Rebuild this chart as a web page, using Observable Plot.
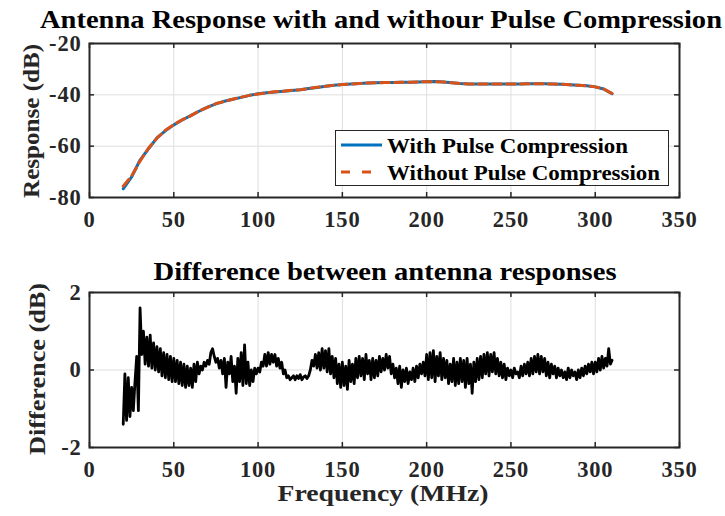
<!DOCTYPE html>
<html><head><meta charset="utf-8">
<script src="https://cdn.jsdelivr.net/npm/d3@7"></script>
<script src="https://cdn.jsdelivr.net/npm/@observablehq/plot@0.6"></script>
<style>
body{margin:0;background:#fff;}
#wrap{position:relative;width:725px;height:516px;overflow:hidden;background:#fff;}
#wrap .panel{position:absolute;left:0;}
#overlay{position:absolute;left:0;top:0;pointer-events:none;}
#overlay text{font-family:"Liberation Serif",serif;font-weight:bold;fill:#000;}
</style></head><body><div id="wrap"></div>
<script>
// ---- data ----
const xTicks = [0, 50, 100, 150, 200, 250, 300, 350];
const respTicks = [-80, -60, -40, -20];
const diffTicks = [-2, 0, 2];

// response sampled every 5 MHz from 20 to 310
const respFreq = [20,25,30,35,40,45,50,55,60,65,70,75,80,85,90,95,100,105,110,115,120,125,130,135,140,145,150,155,160,165,170,175,180,185,190,195,200,205,210,215,220,225,230,235,240,245,250,255,260,265,270,275,280,285,290,295,300,305,310];
const respWith = [-76.6,-72.0,-65.4,-61.0,-56.8,-54.0,-51.7,-49.8,-48.1,-46.4,-44.8,-43.5,-42.5,-41.7,-41.0,-40.2,-39.6,-39.2,-38.9,-38.6,-38.3,-38.0,-37.5,-37.1,-36.7,-36.3,-36.0,-35.8,-35.6,-35.4,-35.3,-35.2,-35.2,-35.1,-35.1,-35.0,-34.9,-34.8,-35.0,-35.3,-35.6,-35.8,-35.8,-35.8,-35.8,-35.8,-35.8,-35.8,-35.7,-35.7,-35.7,-35.8,-35.9,-36.1,-36.3,-36.5,-36.9,-37.7,-39.6];
const respWithout = [-75.6,-71.6,-65.8,-60.8,-56.9,-53.8,-51.6,-49.7,-48.2,-46.3,-44.9,-43.4,-42.6,-41.7,-40.9,-40.2,-39.7,-39.2,-38.8,-38.6,-38.2,-38.0,-37.6,-37.0,-36.7,-36.3,-36.0,-35.8,-35.6,-35.4,-35.3,-35.2,-35.2,-35.1,-35.1,-35.0,-34.9,-34.9,-35.0,-35.3,-35.6,-35.8,-35.8,-35.8,-35.8,-35.8,-35.8,-35.8,-35.7,-35.7,-35.7,-35.8,-35.9,-36.1,-36.3,-36.5,-36.9,-37.7,-39.5];

// difference sampled every 1 MHz from 20 to 310
const diffStart = 20;
const diffValues = [
 -1.40,-0.10,-1.30,-0.20,-1.20,-0.45,-1.05,-0.30, 0.35,-1.05,
  1.60, 0.40, 1.00, 0.15, 0.85, 0.10, 0.90, 0.05, 0.70, 0.00,
  0.60,-0.05, 0.55,-0.15, 0.45,-0.20, 0.40,-0.25, 0.35,-0.30,
  0.30,-0.30, 0.25,-0.35, 0.20,-0.40, 0.15,-0.45, 0.10,-0.40,
  0.05,-0.45, 0.15,-0.30, 0.20,-0.10, 0.10, 0.00, 0.20, 0.10,
  0.25, 0.15, 0.45, 0.55, 0.35, 0.20, 0.30, 0.05, 0.25,-0.10,
  0.30,-0.45, 0.20,-0.10, 0.35,-0.30, 0.10,-0.60, 0.30,-0.30,
  0.45,-0.40, 0.65,-0.35, 0.20,-0.40, 0.00,-0.30, 0.05,-0.10,
  0.05,-0.05, 0.20, 0.10, 0.40, 0.10, 0.45, 0.15, 0.40, 0.20,
  0.40, 0.10, 0.30, 0.05, 0.20,-0.10, 0.00,-0.20,-0.15,-0.25,
 -0.20,-0.15,-0.25,-0.15,-0.22,-0.12,-0.25,-0.18,-0.15,-0.22,
 -0.15, 0.00, 0.25, 0.10, 0.40, 0.05, 0.45, 0.00, 0.55, 0.05,
  0.50,-0.05, 0.55,-0.10, 0.35,-0.20, 0.30,-0.35, 0.15,-0.45,
  0.20,-0.40, 0.10,-0.50, 0.25,-0.30, 0.15,-0.35, 0.30,-0.20,
  0.35,-0.15, 0.30,-0.25, 0.40,-0.10, 0.25,-0.25, 0.30,-0.20,
  0.25,-0.15, 0.35,-0.05, 0.30, 0.00, 0.40, 0.05, 0.35,-0.10,
  0.15,-0.20, 0.05,-0.35, 0.10,-0.45, 0.00,-0.30, 0.05,-0.35,
 -0.05,-0.25, 0.05,-0.30, 0.10,-0.20, 0.15,-0.10, 0.20,-0.15,
  0.40,-0.25, 0.45,-0.20, 0.50,-0.30, 0.35,-0.15, 0.45,-0.25,
  0.30,-0.20, 0.25,-0.35, 0.15,-0.30, 0.30,-0.40, 0.20,-0.35,
  0.30,-0.30, 0.25,-0.45, 0.30,-0.35, 0.15,-0.60, 0.20,-0.30,
  0.30,-0.25, 0.35,-0.20, 0.40,-0.10, 0.45,-0.15, 0.40,-0.05,
  0.45,-0.10, 0.30,-0.15, 0.20,-0.20, 0.15,-0.25, 0.05,-0.15,
  0.00,-0.20, 0.05,-0.10,-0.05,-0.20, 0.10,-0.15, 0.15,-0.10,
  0.20,-0.15, 0.30,-0.10, 0.35,-0.05, 0.40,-0.10, 0.35,-0.05,
  0.30,-0.15, 0.20,-0.20, 0.15,-0.10, 0.10,-0.20, 0.05,-0.15,
  0.00,-0.20,-0.05,-0.25, 0.05,-0.20, 0.00,-0.15,-0.05,-0.25,
  0.00,-0.20, 0.05,-0.15, 0.10,-0.10, 0.15,-0.05, 0.20,-0.10,
  0.20,-0.05, 0.30, 0.00, 0.35, 0.05, 0.30, 0.10, 0.55, 0.15,
  0.25
];

const seriesNames = ["With Pulse Compression", "Without Pulse Compression"];
const seriesColors = ["#0072BD", "#D95319"];
const titleTop = "Antenna Response with and withour Pulse Compression";
const titleBottom = "Difference between antenna responses";
const yLabelTop = "Response (dB)";
const yLabelBottom = "Difference (dB)";
const xLabel = "Frequency (MHz)";

// ---- tables ----
const respData = respFreq.map((f, i) => ({f, w: respWith[i], wo: respWithout[i]}));
const diffData = diffValues.map((v, i) => ({f: diffStart + i, v}));

const W = 725, ML = 89, MR = 46;
const FW = W - ML - MR;
const AX = "#262626";
const FONT = "Liberation Serif, serif";

function panel({height, mt, mb, yDomain, yTicks, marks}) {
  const FH = height - mt - mb;
  return Plot.plot({
    width: W, height, marginLeft: ML, marginRight: MR, marginTop: mt, marginBottom: mb,
    style: {fontFamily: FONT, fontWeight: "bold", background: "transparent", color: "#262626", letterSpacing: "0.8px"},
    x: {domain: [0, 350]},
    y: {domain: yDomain},
    marks: [
      Plot.gridX({ticks: xTicks, stroke: "#dedede", strokeOpacity: 1, strokeWidth: 1}),
      Plot.gridY({ticks: yTicks, stroke: "#dedede", strokeOpacity: 1, strokeWidth: 1}),
      ...marks,
      Plot.ruleX(xTicks, {insetTop: FH - 5, stroke: AX, strokeWidth: 1.5}),
      Plot.ruleX(xTicks, {insetBottom: FH - 5, stroke: AX, strokeWidth: 1.5}),
      Plot.ruleY(yTicks, {insetRight: FW - 5, stroke: AX, strokeWidth: 1.5}),
      Plot.ruleY(yTicks, {insetLeft: FW - 5, stroke: AX, strokeWidth: 1.5}),
      Plot.frame({stroke: AX, strokeWidth: 2}),
      Plot.axisX({ticks: xTicks, tickSize: 0, tickPadding: 14, fontSize: 22.5, label: null, tickFormat: d => String(d), fill: "#262626"}),
      Plot.axisY({ticks: yTicks, tickSize: 0, tickPadding: 8, fontSize: 22.5, label: null, tickFormat: d => String(d), fill: "#262626"})
    ]
  });
}

const topPanel = panel({
  height: 258, mt: 43, mb: 61, yDomain: [-80, -20], yTicks: respTicks,
  marks: [
    Plot.line(respData, {x: "f", y: "w", stroke: seriesColors[0], strokeWidth: 3}),
    Plot.line(respData, {x: "f", y: "wo", stroke: seriesColors[1], strokeWidth: 3, strokeDasharray: "9,5"})
  ]
});
const bottomPanel = panel({
  height: 258, mt: 34, mb: 69, yDomain: [-2, 2], yTicks: diffTicks,
  marks: [
    Plot.line(diffData, {x: "f", y: "v", stroke: "#000", strokeWidth: 2.8, strokeLinejoin: "round"})
  ]
});

const wrap = document.getElementById("wrap");
topPanel.classList.add("panel"); topPanel.style.top = "0px";
bottomPanel.classList.add("panel"); bottomPanel.style.top = "258px";
wrap.appendChild(topPanel);
wrap.appendChild(bottomPanel);

// ---- overlay: titles, axis labels, legend ----
const NS = "http://www.w3.org/2000/svg";
const ov = document.createElementNS(NS, "svg");
ov.setAttribute("id", "overlay");
ov.setAttribute("width", W); ov.setAttribute("height", 516);
wrap.appendChild(ov);
function txt(s, x, y, size, opts = {}) {
  const t = document.createElementNS(NS, "text");
  t.textContent = s;
  t.setAttribute("x", x); t.setAttribute("y", y);
  t.setAttribute("font-size", size);
  t.setAttribute("text-anchor", opts.anchor || "middle");
  if (opts.len) { t.setAttribute("textLength", opts.len); t.setAttribute("lengthAdjust", "spacingAndGlyphs"); }
  if (opts.rotate) t.setAttribute("transform", `rotate(-90 ${x} ${y})`);
  if (opts.fill) t.setAttribute("style", `fill:${opts.fill}`);
  ov.appendChild(t);
  return t;
}
txt(titleTop, 381, 28, 25, {len: 682});
txt(titleBottom, 385, 280, 25, {len: 463});
txt(xLabel, 383, 501, 23, {len: 211, fill: "#262626"});
txt(yLabelTop, 39, 121, 24, {len: 154, rotate: true, fill: "#262626"});
txt(yLabelBottom, 45, 369, 24, {len: 172, rotate: true, fill: "#262626"});

// legend
const lg = document.createElementNS(NS, "g");
ov.appendChild(lg);
const box = document.createElementNS(NS, "rect");
box.setAttribute("x", 335.5); box.setAttribute("y", 130.5);
box.setAttribute("width", 333); box.setAttribute("height", 55);
box.setAttribute("fill", "#fff"); box.setAttribute("stroke", AX); box.setAttribute("stroke-width", 1);
lg.appendChild(box);
const rowsY = [145, 172];
const textLens = [241, 273];
seriesNames.forEach((name, i) => {
  const l = document.createElementNS(NS, "line");
  l.setAttribute("x1", 341); l.setAttribute("x2", 382);
  l.setAttribute("y1", rowsY[i]); l.setAttribute("y2", rowsY[i]);
  l.setAttribute("stroke", seriesColors[i]); l.setAttribute("stroke-width", 3);
  if (i === 1) l.setAttribute("stroke-dasharray", "9,12");
  lg.appendChild(l);
  txt(name, 387, rowsY[i] + 8, 22, {anchor: "start", len: textLens[i]});
});
</script>
</body></html>
